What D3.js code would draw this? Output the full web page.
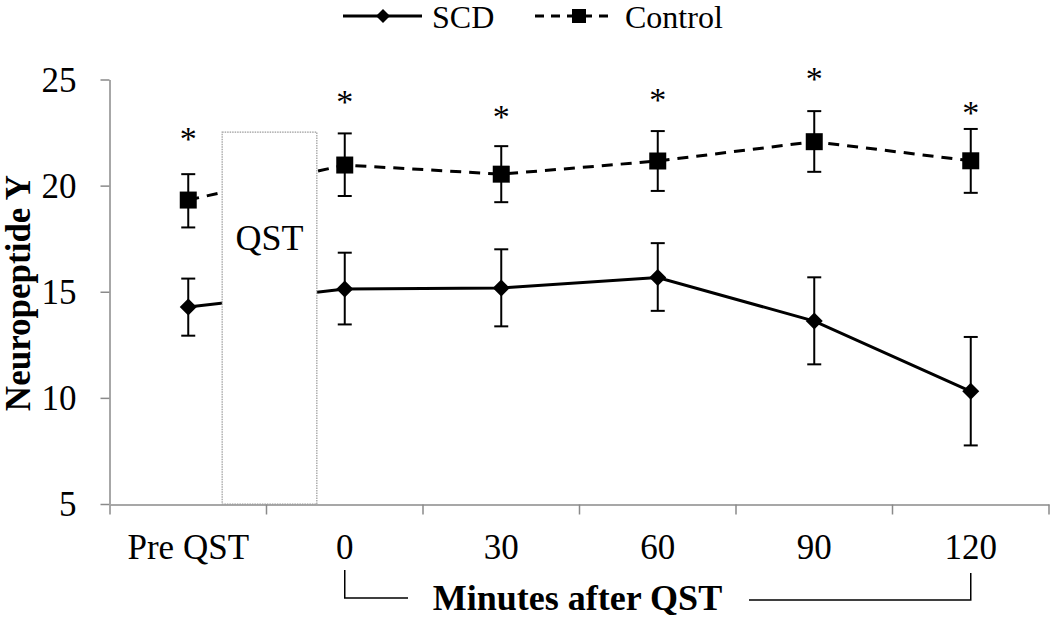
<!DOCTYPE html>
<html>
<head>
<meta charset="utf-8">
<script src="https://cdn.jsdelivr.net/npm/d3@7/dist/d3.min.js"></script>
<style>
  html, body { margin: 0; padding: 0; background: #fff; }
  svg { display: block; font-family: "Liberation Serif", "Times New Roman", serif; }
</style>
</head>
<body>
<svg id="chart" width="1050" height="617"></svg>
<script>
// ---- data ----
const categories = ["Pre QST", "0", "30", "60", "90", "120"];
const scdMean  = [14.28, 15.13, 15.18, 15.67, 13.62, 10.31];
const scdUpper = [15.62, 16.84, 17.00, 17.29, 15.68, 12.87];
const scdLower = [12.93, 13.46, 13.37, 14.10, 11.58, 7.76];
const ctlMean  = [19.32, 20.97, 20.54, 21.16, 22.07, 21.17];
const ctlUpper = [20.54, 22.46, 21.86, 22.57, 23.51, 22.67];
const ctlLower = [18.03, 19.51, 19.22, 19.75, 20.65, 19.66];
const asteriskY = [22.5, 24.2, 23.5, 24.3, 25.3, 23.7];
const yTicks = [5, 10, 15, 20, 25];
const qstTop = 22.52;
const seriesNames = ["SCD", "Control"];

// ---- layout ----
const svg = d3.select("#chart");
const x = d3.scaleBand().domain(categories).range([110, 1049]).padding(0);
const y = d3.scaleLinear().domain([5, 25]).range([504, 79.5]);
const cx = c => x(c) + x.bandwidth() / 2;
const axisColor = "#8a8a8a";
const fontSize = 35;

// ---- y axis ----
const yAxis = svg.append("g").attr("transform", "translate(109.5,0)")
  .call(d3.axisLeft(y).tickValues(yTicks).tickSize(9).tickPadding(24).tickSizeOuter(0));
yAxis.select(".domain").attr("stroke", axisColor).attr("stroke-width", 1.5);
yAxis.selectAll(".tick line").attr("stroke", axisColor).attr("stroke-width", 1.5);
yAxis.selectAll(".tick text").attr("font-family", "Liberation Serif")
  .attr("font-size", fontSize).attr("fill", "#000").attr("dy", "0.34em");

// ---- x axis ----
const xAxis = svg.append("g").attr("transform", "translate(0,504.5)")
  .call(d3.axisBottom(x).tickSize(0).tickPadding(44).tickSizeOuter(0));
xAxis.select(".domain").attr("stroke", axisColor).attr("stroke-width", 1.5);
xAxis.selectAll(".tick text").attr("font-family", "Liberation Serif")
  .attr("font-size", fontSize).attr("fill", "#000").attr("dy", "0.3em");
const boundaries = categories.map(c => x(c)).concat([x.range()[1]]);
xAxis.selectAll(".bnd").data(boundaries).join("line").attr("class", "bnd")
  .attr("x1", d => d).attr("x2", d => d).attr("y1", 0).attr("y2", 10)
  .attr("stroke", axisColor).attr("stroke-width", 1.5);

// ---- lines ----
const line = d3.line().x((d, i) => cx(categories[i])).y(d => y(d));
svg.append("path").datum(scdMean).attr("d", line)
  .attr("fill", "none").attr("stroke", "#000").attr("stroke-width", 3);
svg.append("path").datum(ctlMean).attr("d", line)
  .attr("fill", "none").attr("stroke", "#000").attr("stroke-width", 3)
  .attr("stroke-dasharray", "11,8");

// ---- QST box ----
const qstCenter = x(categories[1]);
const qstW = x.step() * 0.605;
svg.append("rect").attr("x", qstCenter - qstW / 2 + 3).attr("width", qstW)
  .attr("y", y(qstTop)).attr("height", y(5) - y(qstTop))
  .attr("fill", "#fff").attr("stroke", "#9a9a9a").attr("stroke-width", 1.2)
  .attr("stroke-dasharray", "1.5,1");
svg.append("text").attr("x", qstCenter + 3).attr("y", y(qstTop) + 118)
  .attr("text-anchor", "middle").attr("font-size", 36).text("QST");

// ---- error bars ----
function errorBars(upper, lower) {
  const g = svg.append("g").attr("stroke", "#000").attr("stroke-width", 2);
  categories.forEach((c, i) => {
    const px = cx(c);
    g.append("line").attr("x1", px).attr("x2", px).attr("y1", y(upper[i])).attr("y2", y(lower[i]));
    g.append("line").attr("x1", px - 7).attr("x2", px + 7).attr("y1", y(upper[i])).attr("y2", y(upper[i]));
    g.append("line").attr("x1", px - 7).attr("x2", px + 7).attr("y1", y(lower[i])).attr("y2", y(lower[i]));
  });
}
errorBars(scdUpper, scdLower);
errorBars(ctlUpper, ctlLower);

// ---- markers ----
const diamond = (px, py, r) => `M${px},${py - r}L${px + r},${py}L${px},${py + r}L${px - r},${py}Z`;
const square = (px, py, r) => `M${px - r},${py - r}h${2 * r}v${2 * r}h${-2 * r}Z`;
svg.append("g").selectAll("path").data(scdMean).join("path")
  .attr("d", (d, i) => diamond(cx(categories[i]), y(d), 8.5)).attr("fill", "#000");
svg.append("g").selectAll("path").data(ctlMean).join("path")
  .attr("d", (d, i) => square(cx(categories[i]), y(d), 8.5)).attr("fill", "#000");

// ---- asterisks ----
svg.append("g").selectAll("text").data(asteriskY).join("text")
  .attr("x", (d, i) => cx(categories[i]))
  .attr("y", d => y(d) + 17)
  .attr("text-anchor", "middle").attr("font-size", 34).text("*");

// ---- axis titles ----
svg.append("text").attr("transform", "translate(30,293) rotate(-90)")
  .attr("text-anchor", "middle").attr("font-size", 35).attr("font-weight", "bold")
  .text("Neuropeptide Y");
svg.append("text").attr("x", 577.5).attr("y", 610)
  .attr("text-anchor", "middle").attr("font-size", 36).attr("font-weight", "bold")
  .text("Minutes after QST");
// bracket
const bx0 = cx(categories[1]), bx1 = cx(categories[categories.length - 1]);
svg.append("path").attr("d", `M${bx0},570V598H408`).attr("fill", "none").attr("stroke", "#000").attr("stroke-width", 1.5);
svg.append("path").attr("d", `M749,600H${bx1}V573`).attr("fill", "none").attr("stroke", "#000").attr("stroke-width", 1.5);

// ---- legend ----
const lg = svg.append("g");
lg.append("line").attr("x1", 343).attr("x2", 422).attr("y1", 16).attr("y2", 16)
  .attr("stroke", "#000").attr("stroke-width", 3);
lg.append("path").attr("d", diamond(383, 16, 7)).attr("fill", "#000");
lg.append("text").attr("x", 432).attr("y", 28).attr("font-size", 32).text(seriesNames[0]);
lg.append("line").attr("x1", 535).attr("x2", 613).attr("y1", 16).attr("y2", 16)
  .attr("stroke", "#000").attr("stroke-width", 3).attr("stroke-dasharray", "9,7");
lg.append("path").attr("d", square(579, 16, 7)).attr("fill", "#000");
lg.append("text").attr("x", 625).attr("y", 28).attr("font-size", 32).text(seriesNames[1]);
</script>
</body>
</html>
